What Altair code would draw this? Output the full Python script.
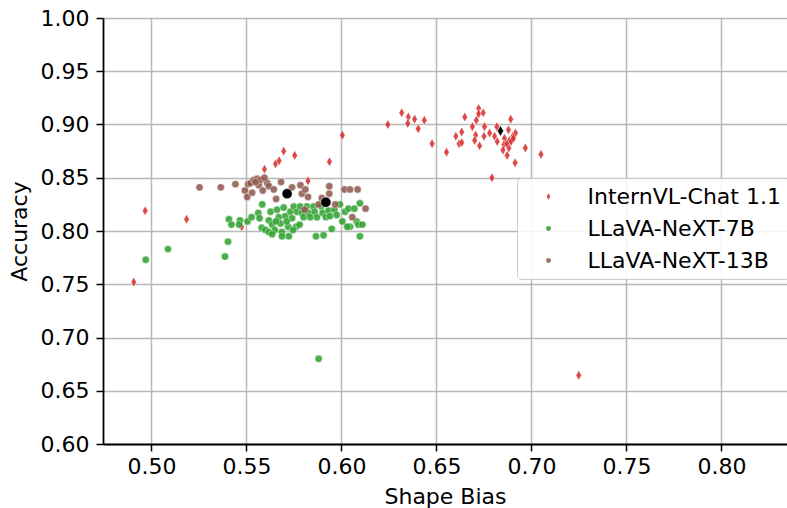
import altair as alt
import pandas as pd

# ---- data ----
models = ["InternVL-Chat 1.1", "LLaVA-NeXT-7B", "LLaVA-NeXT-13B"]
colors = ["#d62728", "#2ca02c", "#8c564b"]

intern_x = [0.4907, 0.4967, 0.5185, 0.5475, 0.5595, 0.5653, 0.5672, 0.5696, 0.5754, 0.5824,
            0.5937, 0.6005, 0.6244, 0.6317, 0.6352, 0.6349, 0.6385, 0.6404, 0.6436, 0.6477,
            0.6553, 0.6649, 0.6602, 0.6633, 0.6619, 0.6633, 0.6689, 0.6710, 0.6722, 0.6722,
            0.6746, 0.6706, 0.6701, 0.6727, 0.6753, 0.6750, 0.6780, 0.6806, 0.6818, 0.6820,
            0.6792, 0.6858, 0.6855, 0.6879, 0.6891, 0.6884, 0.6902, 0.6916, 0.6893, 0.6881,
            0.6850, 0.6872, 0.6914, 0.6968, 0.7050, 0.7249, 0.6905, 0.6870]
intern_y = [0.752, 0.819, 0.811, 0.804, 0.858, 0.863, 0.866, 0.875, 0.871, 0.847,
            0.865, 0.890, 0.900, 0.911, 0.907, 0.901, 0.905, 0.896, 0.904, 0.882,
            0.874, 0.907, 0.889, 0.893, 0.882, 0.883, 0.898, 0.904, 0.915, 0.910,
            0.911, 0.890, 0.885, 0.880, 0.898, 0.889, 0.892, 0.889, 0.898, 0.884,
            0.850, 0.887, 0.881, 0.895, 0.905, 0.885, 0.889, 0.892, 0.884, 0.878,
            0.876, 0.871, 0.864, 0.878, 0.872, 0.6645, 0.887, 0.882]

llava7_x = [0.4970, 0.5087, 0.5387, 0.5403, 0.5408, 0.5421, 0.5466, 0.5461, 0.5506, 0.5880,
            0.5527, 0.5562, 0.5583, 0.5569, 0.5580, 0.5600, 0.5618, 0.5627, 0.5635, 0.5649,
            0.5661, 0.5670, 0.5679, 0.5687, 0.5687, 0.5696, 0.5705, 0.5719, 0.5723, 0.5731,
            0.5740, 0.5749, 0.5761, 0.5766, 0.5783, 0.5792, 0.5801, 0.5818, 0.5827, 0.5836,
            0.5853, 0.5859, 0.5871, 0.5866, 0.5894, 0.5901, 0.5906, 0.5918, 0.5932, 0.5940,
            0.5949, 0.5963, 0.5975, 0.5992, 0.6005, 0.6019, 0.6037, 0.6045, 0.6068, 0.6080,
            0.6089, 0.6097, 0.6097, 0.6110, 0.5618, 0.5635, 0.5655, 0.5712, 0.5745, 0.5780,
            0.6030]
llava7_y = [0.773, 0.783, 0.776, 0.790, 0.811, 0.806, 0.810, 0.806, 0.809, 0.680,
            0.813, 0.817, 0.825, 0.812, 0.803, 0.801, 0.810, 0.818, 0.806, 0.801,
            0.820, 0.813, 0.807, 0.799, 0.795, 0.822, 0.814, 0.804, 0.795, 0.818,
            0.812, 0.823, 0.804, 0.818, 0.823, 0.817, 0.813, 0.823, 0.817, 0.813,
            0.823, 0.818, 0.813, 0.795, 0.823, 0.817, 0.796, 0.813, 0.819, 0.814,
            0.802, 0.820, 0.815, 0.825, 0.809, 0.818, 0.821, 0.804, 0.821, 0.809,
            0.806, 0.826, 0.795, 0.806, 0.799, 0.797, 0.809, 0.809, 0.801, 0.806,
            0.804]

llava13_x = [0.5253, 0.5365, 0.5442, 0.5492, 0.5504, 0.5509, 0.5522, 0.5539, 0.5556, 0.5565,
             0.5574, 0.5586, 0.5609, 0.5618, 0.5644, 0.5656, 0.5682, 0.5740, 0.5784, 0.5792,
             0.5810, 0.5824, 0.5806, 0.5880, 0.5897, 0.5936, 0.5936, 0.5967, 0.6016, 0.6045,
             0.6085, 0.6057, 0.6127, 0.5548, 0.5595, 0.5530]
llava13_y = [0.841, 0.841, 0.844, 0.838, 0.832, 0.844, 0.845, 0.848, 0.849, 0.843,
             0.848, 0.838, 0.845, 0.842, 0.839, 0.830, 0.846, 0.841, 0.843, 0.835,
             0.839, 0.832, 0.820, 0.825, 0.831, 0.842, 0.835, 0.825, 0.839, 0.839,
             0.839, 0.813, 0.821, 0.846, 0.850, 0.836]

# black summary markers
diamond_mark_x = [0.6837]
diamond_mark_y = [0.894]
circle_mark_x = [0.5714, 0.5918]
circle_mark_y = [0.835, 0.827]

x_ticks = [0.50, 0.55, 0.60, 0.65, 0.70, 0.75, 0.80]
y_ticks = [0.60, 0.65, 0.70, 0.75, 0.80, 0.85, 0.90, 0.95, 1.00]

# ---- tables ----
rows = []
for name, xs, ys in [(models[0], intern_x, intern_y),
                     (models[1], llava7_x, llava7_y),
                     (models[2], llava13_x, llava13_y)]:
    for xv, yv in zip(xs, ys):
        rows.append({"model": name, "shape_bias": xv, "accuracy": yv})
df = pd.DataFrame(rows)
df_d = pd.DataFrame({"shape_bias": diamond_mark_x, "accuracy": diamond_mark_y})
df_c = pd.DataFrame({"shape_bias": circle_mark_x, "accuracy": circle_mark_y})

DIAMOND = "M0,-1.3L0.75,0L0,1.3L-0.75,0Z"
FONT = "DejaVu Sans"

xscale = alt.Scale(domain=[0.4745, 0.8345], nice=False, zero=False)
yscale = alt.Scale(domain=[0.60, 1.00], nice=False, zero=False)

X = alt.X("shape_bias:Q", scale=xscale,
          axis=alt.Axis(values=x_ticks, format=".2f", title="Shape Bias",
                        labelPadding=5, titlePadding=9))
Y = alt.Y("accuracy:Q", scale=yscale,
          axis=alt.Axis(values=y_ticks, format=".2f", title="Accuracy",
                        labelPadding=7, titlePadding=9))

points = alt.Chart(df).mark_point(filled=True, opacity=0.85, size=55,
                                  stroke="white", strokeWidth=0.5).encode(
    x=X, y=Y,
    color=alt.Color("model:N", scale=alt.Scale(domain=models, range=colors),
                    legend=alt.Legend(title=None, orient="none", legendX=414, legendY=160,
                                      symbolSize=24, symbolOffset=13, labelOffset=28,
                                      rowPadding=10, padding=7.5, labelLimit=400)),
    shape=alt.Shape("model:N", scale=alt.Scale(domain=models, range=[DIAMOND, "circle", "circle"])),
)

black_d = alt.Chart(df_d).mark_point(filled=True, color="black", opacity=1, size=70,
                                     shape=DIAMOND, stroke="white", strokeWidth=0.5).encode(x=X, y=Y)
black_c = alt.Chart(df_c).mark_point(filled=True, color="black", opacity=1, size=105,
                                     shape="circle", stroke="white", strokeWidth=0.5).encode(x=X, y=Y)

chart = alt.layer(points, black_d, black_c).properties(
    width=684, height=426,
    autosize=alt.AutoSizeParams(type="none"),
    padding={"left": 103, "top": 18, "right": 0, "bottom": 64},
).configure_view(stroke=None).configure_axis(
    labelFont=FONT, titleFont=FONT, labelFontSize=22, titleFontSize=22,
    labelColor="black", titleColor="black", titleFontWeight="normal",
    domainColor="black", domainWidth=1.8, tickColor="black", tickWidth=1.5, tickSize=7,
    gridColor="#b8b8b8", gridWidth=1.5,
).configure_legend(
    labelFont=FONT, labelFontSize=22, labelColor="black",
    fillColor="rgba(255,255,255,0.85)", strokeColor="#cccccc", cornerRadius=4,
    symbolOpacity=0.85, symbolStrokeWidth=0,
)

chart.save("out.html", embed_options={"renderer": "svg", "actions": False})
